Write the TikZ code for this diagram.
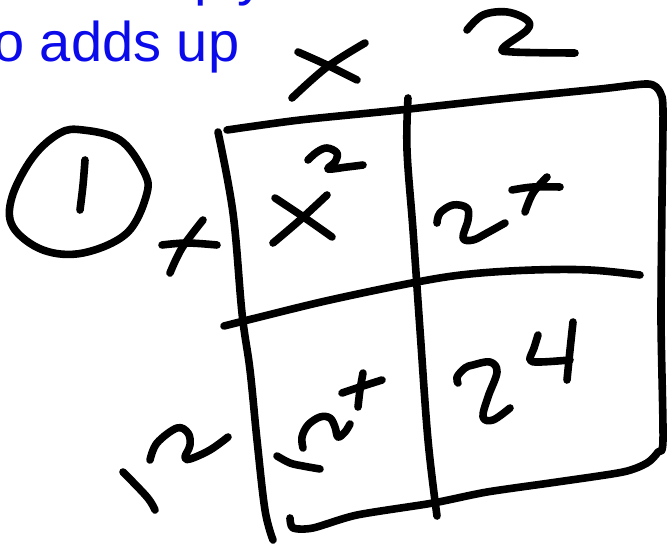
\documentclass[tikz,border=0pt]{standalone}
\usepackage{fontspec}
\setmainfont{Liberation Sans}
\definecolor{inkblue}{RGB}{10,10,235}
\begin{document}
\begin{tikzpicture}[x=1pt,y=-1pt,
  pen/.style={line width=7.6pt, line cap=round, line join=round},
  bluetext/.style={inner sep=0pt, outer sep=0pt, text=inkblue, font=\fontsize{56}{64}\selectfont}]
\useasboundingbox (0,0) rectangle (668,545);
\begin{scope}
\clip (0,0) rectangle (668,545);
\node[bluetext, anchor=base west] (prevline) at (75.8,-5) {multiply};
\node[bluetext, anchor=base west] (topline) at (-6.7,62) {o adds up};
\end{scope}
% circled 1
\draw[pen] plot[smooth cycle, tension=0.6] coordinates {(83,130) (120,140) (143,170) (147,193) (127,233) (83,253) (43,250) (13,227) (12,197) (33,157) (60,133)};
\draw[pen] plot[smooth, tension=0.6] coordinates {(85,160) (83,185) (80,210)};
% left x
\draw[pen] plot[smooth, tension=0.6] coordinates {(162,245) (187,243) (217,245)};
\draw[pen] plot[smooth, tension=0.6] coordinates {(203,220) (182,248) (170,273)};
% top x
\draw[pen] plot[smooth, tension=0.6] coordinates {(298,52) (327,65) (357,80)};
\draw[pen] plot[smooth, tension=0.6] coordinates {(365,43) (327,67) (292,98)};
% top 2
\draw[pen] plot[smooth, tension=0.6] coordinates {(467,30) (483,15) (507,12) (527,20) (527,30) (503,48) (513,52) (575,53)};
% frame: top, right side, bottom
\draw[pen] plot[smooth, tension=0.45] coordinates {(227,130) (300,120) (400,110) (500,99) (600,89) (648,84) (660,92) (663,110) (662,200) (661,320) (663,440) (658,452) (647,463) (623,472) (557,482) (487,492) (433,503) (357,515) (313,528) (293,528) (290,518)};
% left vertical
\draw[pen] plot[smooth, tension=0.6] coordinates {(218,132) (233,213) (242,313) (250,370) (257,440) (265,510) (273,540)};
% middle vertical
\draw[pen] plot[smooth, tension=0.6] coordinates {(408,98) (407,150) (413,230) (420,330) (428,440) (437,516)};
% middle horizontal
\draw[pen] plot[smooth, tension=0.6] coordinates {(224,326) (260,317) (330,300) (417,282) (470,274) (533,270) (590,270) (640,275)};
% x^2
\draw[pen] plot[smooth, tension=0.6] coordinates {(275,198) (305,218) (332,237)};
\draw[pen] plot[smooth, tension=0.6] coordinates {(327,195) (300,220) (273,243)};
\draw[pen] plot[smooth, tension=0.6] coordinates {(308,160) (317,152) (327,148) (337,153) (335,162) (328,169) (347,167) (363,165)};
% 2x
\draw[pen] plot[smooth, tension=0.6] coordinates {(437,223) (440,213) (453,205) (467,208) (468,220) (463,238) (473,240) (487,233) (505,223)};
\draw[pen] plot[smooth, tension=0.6] coordinates {(512,190) (533,187) (560,187)};
\draw[pen] plot[smooth, tension=0.6] coordinates {(547,177) (533,193) (525,212)};
% 12 (left)
\draw[pen] plot[smooth, tension=0.6] coordinates {(123,472) (147,497) (155,510)};
\draw[pen] plot[smooth, tension=0.6] coordinates {(150,460) (157,443) (177,428) (188,433) (190,445) (185,457) (190,459) (210,450) (228,437)};
% 12x
\draw[pen] plot[smooth, tension=0.6] coordinates {(277,456) (290,463) (303,466) (320,469)};
\draw[pen] plot[smooth, tension=0.6] coordinates {(303,448) (302,437) (308,425) (320,417) (330,418) (335,427) (338,437) (345,432) (350,424)};
\draw[pen] plot[smooth, tension=0.6] coordinates {(342,393) (360,387) (382,380)};
\draw[pen] plot[smooth, tension=0.6] coordinates {(363,373) (360,390) (358,407)};
% 24
\draw[pen] plot[smooth, tension=0.6] coordinates {(458,383) (457,377) (465,368) (473,365) (490,362) (497,372) (488,397) (483,417) (493,420) (510,408)};
\draw[pen] plot[smooth, tension=0.6] coordinates {(538,335) (534,348) (530,360) (540,362) (570,360)};
\draw[pen] plot[smooth, tension=0.6] coordinates {(573,322) (570,350) (567,380)};
\end{tikzpicture}
\end{document}
